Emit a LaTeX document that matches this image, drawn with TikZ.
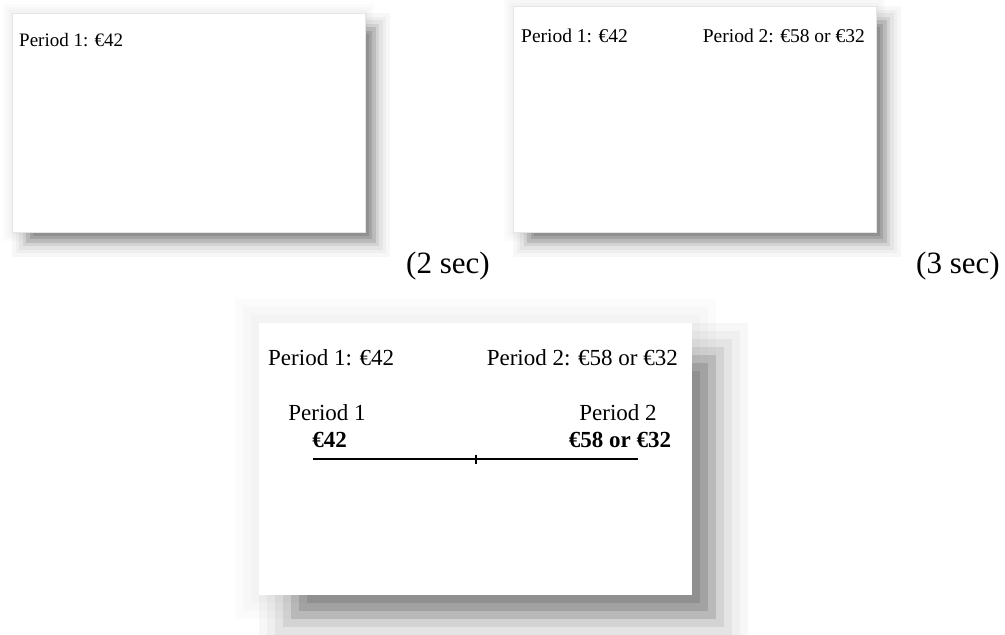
\documentclass[tikz,border=0pt]{standalone}
\usepackage{fontspec}
\setmainfont{Liberation Serif}

% stacked translucent rectangles: a soft drop shadow below and right of a box
% #1 left, #2 top, #3 right, #4 bottom, #5 step
\newcommand\softshadow[5]{%
  \foreach \k/\a in {1/0.10,2/0.11,3/0.10,4/0.07,5/0.045,6/0.03,7/0.03}{%
    \fill[black,opacity=\a] ({#1+#5*(7-\k)},{#2+#5*(7-\k)}) rectangle ({#3+#5*\k},{#4+#5*\k});
  }}
% faint halo all round a box
\newcommand\softglow[5]{%
  \foreach \k in {1,2,3}{%
    \fill[black,opacity=0.015] ({#1-#5*\k},{#2-#5*\k}) rectangle ({#3+#5*\k},{#4+#5*\k});
  }}

\tikzset{
  panel/.style={fill=white, draw=black!10, line width=0.5pt, inner sep=0pt, anchor=north west},
  bigpanel/.style={panel, draw=none},
  small/.style={inner sep=0pt, font=\fontsize{19}{23}\selectfont},
  mid/.style={inner sep=0pt, font=\fontsize{19.5}{23}\selectfont},
  large/.style={inner sep=0pt, font=\fontsize{23}{27}\selectfont},
  largebold/.style={inner sep=0pt, font=\fontsize{23}{27}\selectfont\bfseries},
  caption/.style={inner sep=0pt, font=\fontsize{31}{36}\selectfont, anchor=base west},
  timeline/.style={line width=1.3pt},
}

\begin{document}
\begin{tikzpicture}[x=1pt,y=-1pt]
  \useasboundingbox (0,0) rectangle (1005,635);
  \fill[white] (0,0) rectangle (1005,635);

  % first slide
  \softglow{12}{13}{365}{232}{3}
  \softshadow{12}{13}{365}{232}{3.5}
  \node[panel, minimum width=353pt, minimum height=219pt] (slideA) at (12,13) {};
  \node[small, anchor=base west] (a1) at (19,46.5) {Period 1: €42};

  % second slide
  \softglow{513}{6}{876}{232}{3}
  \softshadow{513}{6}{876}{232}{3.5}
  \node[panel, minimum width=363pt, minimum height=226pt] (slideB) at (513,6) {};
  \node[mid, anchor=base west] (b1) at (521,42) {Period 1: €42};
  \node[mid, anchor=base east] (b2) at (865,42) {Period 2: €58 or €32};

  % timing captions
  \node[caption] (t2) at (406,273) {(2 sec)};
  \node[caption] (t3) at (916,273) {(3 sec)};

  % third slide
  \softglow{259}{323}{692}{595}{8}
  \softshadow{259}{323}{692}{595}{8}
  \node[bigpanel, minimum width=433pt, minimum height=272pt] (slideC) at (259,323) {};
  \node[large, anchor=base west] (c1) at (268,365) {Period 1: €42};
  \node[large, anchor=base east] (c2) at (678,365) {Period 2: €58 or €32};
  \node[large, anchor=base] (p1) at (327,420) {Period 1};
  \node[largebold, anchor=base] (v1) at (329.5,447) {€42};
  \node[large, anchor=base] (p2) at (618,420) {Period 2};
  \node[largebold, anchor=base] (v2) at (620,447) {€58 or €32};

  % time line with a mid tick
  \coordinate (tl0) at (313,459);
  \coordinate (tl1) at (638,459);
  \coordinate (tlm) at (476,459);
  \draw[timeline] (tl0) -- (tl1);
  \draw[timeline] (tlm) ++(0,-4.5) -- ++(0,9);
\end{tikzpicture}
\end{document}
